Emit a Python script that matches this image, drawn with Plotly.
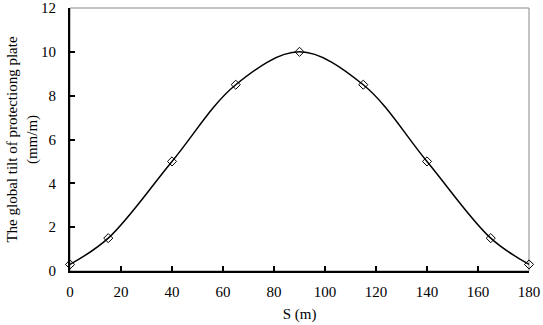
import plotly.graph_objects as go

s_m = [0, 15, 40, 65, 90, 115, 140, 165, 180]
tilt = [0.3, 1.5, 5.0, 8.5, 10.0, 8.5, 5.0, 1.5, 0.3]
x_ticks = [0, 20, 40, 60, 80, 100, 120, 140, 160, 180]
y_ticks = [0, 2, 4, 6, 8, 10, 12]

font = dict(family="Liberation Serif", size=15, color="black")

fig = go.Figure()
fig.add_trace(go.Scatter(
    x=s_m, y=tilt, mode="lines+markers",
    line=dict(color="black", width=1.5, shape="spline", smoothing=1.0),
    marker=dict(symbol="diamond-open", size=7, color="black", line=dict(width=1)),
    cliponaxis=False,
))

fig.update_layout(
    width=543, height=325,
    margin=dict(l=70, r=14, t=8, b=54),
    paper_bgcolor="white", plot_bgcolor="white",
    showlegend=False,
    font=font,
    shapes=[dict(type="rect", xref="paper", yref="paper", x0=0, y0=0, x1=1, y1=1,
                 line=dict(color="#888888", width=1), layer="below")],
)
fig.update_xaxes(
    range=[0, 180], tickvals=x_ticks, ticktext=[str(v) for v in x_ticks],
    ticks="inside", ticklen=5, tickwidth=1.5, automargin=False,
    tickcolor="black", showline=True, linecolor="black", linewidth=2,
    tickfont=font, showgrid=False, zeroline=False, ticklabelstandoff=6,
    title=dict(text="S (m)", standoff=9, font=font),
)
fig.update_yaxes(
    range=[0, 12], tickvals=y_ticks, ticktext=[str(v) for v in y_ticks],
    ticks="inside", ticklen=5, tickwidth=1.5, automargin=False,
    tickcolor="black", showline=True, linecolor="black", linewidth=2,
    tickfont=font, showgrid=False, zeroline=False, ticklabeloverflow="allow",
    ticklabelstandoff=9,
    title=dict(text="The global tilt of protectiong plate<br>(mm/m)", standoff=0, font=font),
)
fig.write_html("out.html")
